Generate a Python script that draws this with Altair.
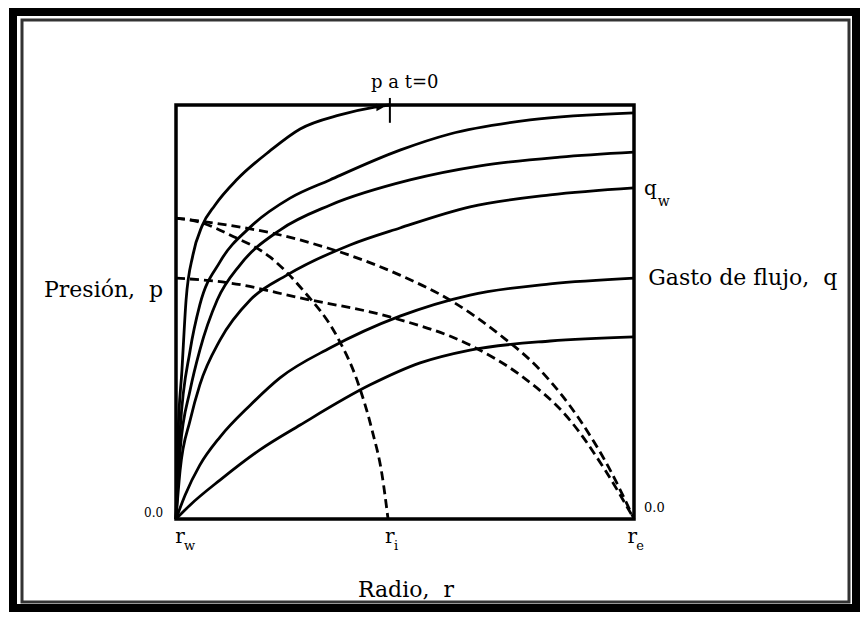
import altair as alt
import pandas as pd

# ---- pressure / rate profiles (r normalised: 0 = r_w, 1 = r_e ; p normalised 0..1) ----
r_s1 = [0, 0.004, 0.013, 0.022, 0.037, 0.057, 0.085, 0.133, 0.205, 0.271, 0.358, 0.434, 0.467]
p_s1 = [0, 0.191, 0.360, 0.529, 0.638, 0.708, 0.758, 0.820, 0.889, 0.942, 0.976, 0.995, 1.0]

r_s2 = [0, 0.009, 0.031, 0.052, 0.096, 0.162, 0.249, 0.336, 0.489, 0.598, 0.773, 1.0]
p_s2 = [0, 0.215, 0.408, 0.517, 0.621, 0.705, 0.775, 0.819, 0.891, 0.930, 0.964, 0.981]

r_s3 = [0, 0.009, 0.031, 0.052, 0.090, 0.140, 0.227, 0.336, 0.511, 0.664, 0.838, 1.0]
p_s3 = [0, 0.167, 0.312, 0.408, 0.529, 0.614, 0.698, 0.758, 0.819, 0.853, 0.874, 0.886]

r_s4 = [0, 0.009, 0.031, 0.052, 0.096, 0.162, 0.242, 0.380, 0.489, 0.642, 0.817, 1.0]
p_s4 = [0, 0.118, 0.239, 0.324, 0.432, 0.529, 0.589, 0.662, 0.703, 0.754, 0.783, 0.800]

r_s5 = [0, 0.020, 0.052, 0.096, 0.162, 0.227, 0.336, 0.489, 0.642, 0.817, 1.0]
p_s5 = [0, 0.058, 0.130, 0.198, 0.275, 0.341, 0.413, 0.490, 0.541, 0.568, 0.582]

r_s6 = [0, 0.031, 0.096, 0.183, 0.271, 0.424, 0.533, 0.642, 0.817, 1.0]
p_s6 = [0, 0.034, 0.094, 0.167, 0.227, 0.324, 0.377, 0.408, 0.430, 0.440]

r_d1 = [0, 0.052, 0.118, 0.205, 0.277, 0.352, 0.395, 0.428, 0.450, 0.463]
q_d1 = [0.727, 0.717, 0.686, 0.633, 0.553, 0.440, 0.336, 0.215, 0.106, 0.0]

r_d2 = [0, 0.271, 0.489, 0.598, 0.707, 0.795, 0.882, 0.948, 1.0]
q_d2 = [0.727, 0.674, 0.589, 0.529, 0.445, 0.360, 0.239, 0.118, 0.0]

r_d3 = [0, 0.118, 0.271, 0.467, 0.642, 0.751, 0.860, 0.937, 1.0]
q_d3 = [0.582, 0.570, 0.534, 0.488, 0.420, 0.348, 0.239, 0.118, 0.0]

r_ticks = [0.009, 0.467, 0.996]
r_tick_sub = ["w", "i", "e"]
r_i = 0.467

FONT = "DejaVu Serif"
SP = "\u00a0"


def build(curves):
    rows = []
    for name, rs, ps in curves:
        for k, (a, b) in enumerate(zip(rs, ps)):
            rows.append({"curve": name, "k": k, "r": a, "p": b})
    return pd.DataFrame(rows)


solid = build([("s1", r_s1, p_s1), ("s2", r_s2, p_s2), ("s3", r_s3, p_s3),
               ("s4", r_s4, p_s4), ("s5", r_s5, p_s5), ("s6", r_s6, p_s6)])
dashed = build([("d1", r_d1, q_d1), ("d2", r_d2, q_d2), ("d3", r_d3, q_d3)])

xs = alt.Scale(domain=[0, 1], nice=False, zero=False)
ys = alt.Scale(domain=[0, 1], nice=False, zero=False)


def X(f):
    return alt.X(f, type="quantitative", scale=xs, axis=None)


def Y(f):
    return alt.Y(f, type="quantitative", scale=ys, axis=None)


one = pd.DataFrame({"a": [0]})

frame_outer = alt.Chart(one).mark_rect(fillOpacity=0, stroke="black", strokeWidth=8).encode(
    x=alt.value(-163), x2=alt.value(680), y=alt.value(-93), y2=alt.value(503))
frame_inner = alt.Chart(one).mark_rect(fillOpacity=0, stroke="#333333", strokeWidth=3).encode(
    x=alt.value(-154), x2=alt.value(673), y=alt.value(-85), y2=alt.value(497))

solid_l = alt.Chart(solid).mark_line(interpolate="monotone", color="black", strokeWidth=2.8).encode(
    x=X("r"), y=Y("p"), detail="curve:N", order="k:Q")
dashed_l = alt.Chart(dashed).mark_line(interpolate="monotone", color="black", strokeWidth=2.8,
                                       strokeDash=[9, 5]).encode(
    x=X("r"), y=Y("p"), detail="curve:N", order="k:Q")

tick = alt.Chart(pd.DataFrame({"r": [r_i], "p": [1.017], "p2": [0.957]})).mark_rule(
    color="black", strokeWidth=2).encode(x=X("r"), y=Y("p"), y2="p2:Q")
arrow = alt.Chart(pd.DataFrame({"r": [0.445], "p": [0.994]})).mark_point(
    shape="triangle-right", filled=True, color="black", size=60, opacity=1).encode(
    x=X("r"), y=Y("p"))


def txt(s, x, y, size=22, align="left", baseline="middle"):
    return alt.Chart(pd.DataFrame({"r": [x], "p": [y]})).mark_text(
        text=s, font=FONT, fontSize=size, align=align, baseline=baseline, color="black").encode(
        x=X("r"), y=Y("p"))


ticks_df = pd.DataFrame({"r": r_ticks, "sub": r_tick_sub, "p": [-0.043] * 3, "ps": [-0.066] * 3})
tick_r = alt.Chart(ticks_df).mark_text(text="r", font=FONT, fontSize=20, align="center",
                                       baseline="middle", color="black").encode(
    x=X("r"), y=Y("p"))
tick_sub = alt.Chart(ticks_df).mark_text(font=FONT, fontSize=13, align="left", dx=4,
                                         baseline="middle", color="black").encode(
    x=X("r"), y=Y("ps"), text="sub:N")

labels = [
    txt("p a t=0", 0.426, 1.053, size=18),
    txt("Presión," + SP + SP + "p", -0.028, 0.553, align="right"),
    txt("Gasto de flujo," + SP + SP + "q", 1.031, 0.582),
    txt("q", 1.022, 0.797, size=20),
    txt("w", 1.052, 0.765, size=14),
    txt("0.0", -0.028, 0.015, size=12, align="right"),
    txt("0.0", 1.022, 0.027, size=13),
    txt("Radio," + SP + SP + "r", 0.502, -0.171, align="center"),
]

chart = alt.layer(frame_outer, frame_inner, solid_l, dashed_l, tick, arrow, tick_r, tick_sub,
                  *labels).properties(
    width=458, height=414,
    autosize=alt.AutoSizeParams(type="none"),
    padding={"left": 168, "top": 97, "right": 226, "bottom": 93},
    background="white",
).configure_view(stroke="black", strokeWidth=3.5)

chart.save("out.html", embed_options={"renderer": "svg", "actions": False})
